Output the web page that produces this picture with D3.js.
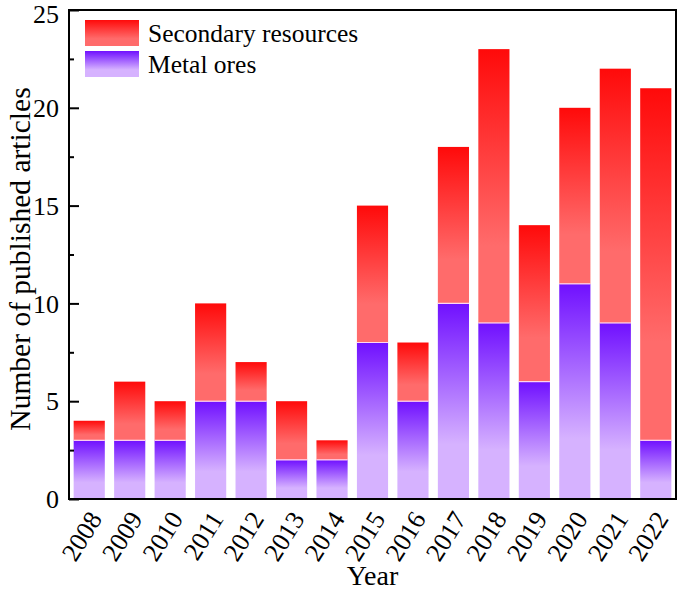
<!DOCTYPE html>
<html><head><meta charset="utf-8">
<script src="https://cdn.jsdelivr.net/npm/d3@7"></script>
<style>body{margin:0;background:#fff}svg{display:block}text{font-family:"Liberation Serif","Times New Roman",serif;fill:#000}</style>
</head><body>
<script>
const years = ["2008","2009","2010","2011","2012","2013","2014","2015","2016","2017","2018","2019","2020","2021","2022"];
const metalOres = [3,3,3,5,5,2,2,8,5,10,9,6,11,9,3];
const secondary = [1,3,2,5,2,3,1,7,3,8,14,8,9,13,18];
const yTicks = [0,5,10,15,20,25];
const seriesNames = ["Secondary resources","Metal ores"];

const W=679,H=595;
const m={l:69,r:3,t:10,b:96};
const svg=d3.select("body").append("svg").attr("width",W).attr("height",H);
const defs=svg.append("defs");
function grad(id,top,bot){
  const g=defs.append("linearGradient").attr("id",id).attr("x1",0).attr("y1",0).attr("x2",0).attr("y2",1);
  g.append("stop").attr("offset","0%").attr("stop-color",top);
  g.append("stop").attr("offset","72%").attr("stop-color",bot);
  g.append("stop").attr("offset","100%").attr("stop-color",bot);
}
grad("gRed","#ff0a0a","#ff6b6b");
grad("gPur","#7010ff","#d6b2ff");

const x=d3.scaleBand().domain(years).range([m.l,W-m.r]).paddingInner(0.23).paddingOuter(0.115);
const y=d3.scaleLinear().domain([0,25]).range([H-m.b,m.t]);

const data=years.map((yr,i)=>({yr,metal:metalOres[i],sec:secondary[i]}));
const g=svg.append("g");
g.selectAll("rect.m").data(data).join("rect").attr("class","m")
 .attr("x",d=>x(d.yr)).attr("width",x.bandwidth())
 .attr("y",d=>y(d.metal)).attr("height",d=>y(0)-y(d.metal))
 .attr("fill","url(#gPur)");
g.selectAll("rect.s").data(data).join("rect").attr("class","s")
 .attr("x",d=>x(d.yr)).attr("width",x.bandwidth())
 .attr("y",d=>y(d.metal+d.sec)).attr("height",d=>y(d.metal)-y(d.metal+d.sec))
 .attr("fill","url(#gRed)");
g.selectAll("line.sep").data(data).join("line").attr("class","sep")
 .attr("x1",d=>x(d.yr)).attr("x2",d=>x(d.yr)+x.bandwidth())
 .attr("y1",d=>y(d.metal)).attr("y2",d=>y(d.metal))
 .attr("stroke","#ffd6f0").attr("stroke-width",1.2);

// y axis ticks inward
const ya=svg.append("g").attr("transform",`translate(${m.l},0)`)
 .call(d3.axisRight(y).tickValues(yTicks).tickSize(10).tickFormat(""));
ya.select(".domain").remove();
ya.selectAll("line").attr("stroke","#000").attr("stroke-width",2);
const yam=svg.append("g").attr("transform",`translate(${m.l},0)`)
 .call(d3.axisRight(y).tickValues(d3.range(2.5,25,5)).tickSize(5).tickFormat(""));
yam.select(".domain").remove();
yam.selectAll("line").attr("stroke","#000").attr("stroke-width",2);
svg.append("g").selectAll("text").data(yTicks).join("text")
 .attr("x",m.l-10).attr("y",d=>Math.max(y(d),14)).attr("dy","0.35em").attr("text-anchor","end")
 .attr("font-size",26).text(d=>d);

// frame
svg.append("rect").attr("x",m.l).attr("y",m.t).attr("width",W-m.r-m.l).attr("height",H-m.b-m.t)
 .attr("fill","none").attr("stroke","#000").attr("stroke-width",2);

// x labels
svg.append("g").selectAll("text").data(years).join("text")
 .attr("transform",d=>`translate(${x(d)+x.bandwidth()/2+6},${H-m.b+15}) rotate(-58)`)
 .attr("text-anchor","end").attr("dy","0.35em").attr("font-size",26).text(d=>d);

svg.append("text").attr("x",(m.l+W-m.r)/2).attr("y",585).attr("text-anchor","middle").attr("font-size",28).text("Year");
svg.append("text").attr("transform",`translate(20,259) rotate(-90)`).attr("dy","0.35em")
 .attr("text-anchor","middle").attr("font-size",29.5).text("Number of published articles");

// legend
const lg=svg.append("g");
const fills=["url(#gRed)","url(#gPur)"];
seriesNames.forEach((n,i)=>{
  lg.append("rect").attr("x",85).attr("y",20+i*31).attr("width",54).attr("height",26).attr("fill",fills[i]);
  lg.append("text").attr("x",148).attr("y",33+i*31).attr("dy","0.35em").attr("font-size",25.5).text(n);
});
</script>
</body></html>
